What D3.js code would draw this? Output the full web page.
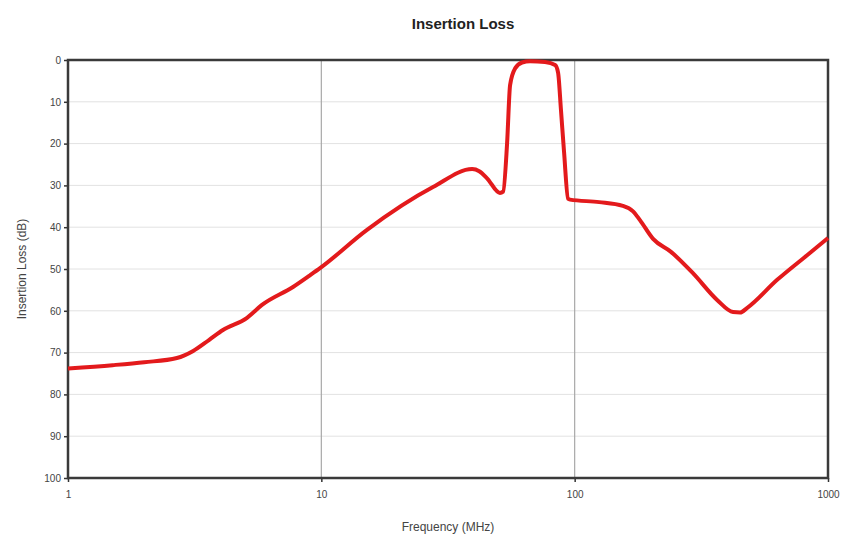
<!DOCTYPE html>
<html>
<head>
<meta charset="utf-8">
<script src="https://cdn.jsdelivr.net/npm/d3@7"></script>
<style>
  body { margin: 0; background: #fff; }
  text { font-family: "Liberation Sans", Arial, sans-serif; fill: #444; }
</style>
</head>
<body>
<div id="chart"></div>
<script>
// chart size and plot margins
const width = 844;
const height = 536;
const margin = {left: 68, right: 16, top: 60, bottom: 58};

// curve: frequency (MHz) and insertion loss (dB)
const freq = [1, 1.5, 2, 2.69, 3.12, 3.6, 4.09, 5.09, 5.83, 7.73, 9.02, 9.88, 15.1, 27.6,
  39.4, 42, 45.1, 50.7, 52.2, 54.1, 55.6, 58.2, 62, 66.7, 76.4, 83.7, 86, 88.3, 90.8, 94.2,
  95.9, 125, 155, 170, 181, 204, 240, 293, 365, 422, 450, 480, 630, 827, 1000];
const loss = [73.8, 73.0, 72.3, 71.3, 69.6, 67.0, 64.6, 61.7, 58.6, 54.3, 51.5, 49.8, 40.7, 30.4,
  26.1, 26.6, 28.3, 31.8, 31.5, 20, 6, 2, 0.6, 0.3, 0.5, 1.2, 3, 12, 22, 33.2,
  33.4, 34.0, 34.9, 36.2, 38.3, 42.8, 45.9, 51, 57.4, 60.3, 60.4, 59.3, 52.6, 46.7, 42.6];

const xTicks = [1, 10, 100, 1000];
const yTicks = d3.range(0, 101, 10);

const data = freq.map((f, i) => ({f: f, v: loss[i]}));

const svg = d3.select("#chart")
  .append("svg")
  .attr("width", width)
  .attr("height", height);

// scales
const x = d3.scaleLog()
  .domain([1, 1000])
  .range([margin.left, width - margin.right]);

const y = d3.scaleLinear()
  .domain([0, 100])
  .range([margin.top, height - margin.bottom]);

// horizontal grid
svg.append("g")
  .selectAll("line")
  .data(yTicks.slice(1, -1))
  .join("line")
    .attr("x1", margin.left)
    .attr("x2", width - margin.right)
    .attr("y1", d => y(d))
    .attr("y2", d => y(d))
    .attr("stroke", "#e2e2e2")
    .attr("stroke-width", 1);

// vertical grid at the decades
svg.append("g")
  .selectAll("line")
  .data(xTicks.slice(1, -1))
  .join("line")
    .attr("x1", d => x(d))
    .attr("x2", d => x(d))
    .attr("y1", margin.top)
    .attr("y2", height - margin.bottom)
    .attr("stroke", "#a8a8a8")
    .attr("stroke-width", 1.2);

// axes
const yAxis = svg.append("g")
  .attr("transform", `translate(${margin.left},0)`)
  .call(d3.axisLeft(y).tickValues(yTicks).tickSize(4).tickPadding(3));

const xAxis = svg.append("g")
  .attr("transform", `translate(0,${height - margin.bottom})`)
  .call(d3.axisBottom(x).tickValues(xTicks).tickFormat(d3.format("d")).tickSize(4).tickPadding(9));

[yAxis, xAxis].forEach(g => {
  g.select(".domain").remove();
  g.selectAll(".tick line").attr("stroke", "#333").attr("stroke-width", 1.5);
  g.selectAll(".tick text").attr("font-size", "10px").attr("fill", "#444");
});

// plot frame
svg.append("rect")
  .attr("x", margin.left)
  .attr("y", margin.top)
  .attr("width", width - margin.left - margin.right)
  .attr("height", height - margin.top - margin.bottom)
  .attr("fill", "none")
  .attr("stroke", "#3a3a3a")
  .attr("stroke-width", 2.5);

// insertion loss curve
const line = d3.line()
  .x(d => x(d.f))
  .y(d => y(d.v))
  .curve(d3.curveMonotoneX);

svg.append("path")
  .datum(data)
  .attr("d", line)
  .attr("fill", "none")
  .attr("stroke", "#e31a1c")
  .attr("stroke-width", 4)
  .attr("stroke-linejoin", "round");

// titles
svg.append("text")
  .attr("x", 463)
  .attr("y", 29)
  .attr("text-anchor", "middle")
  .attr("font-size", "15px")
  .attr("font-weight", "bold")
  .style("fill", "#222")
  .text("Insertion Loss");

svg.append("text")
  .attr("x", (margin.left + width - margin.right) / 2)
  .attr("y", 531)
  .attr("text-anchor", "middle")
  .attr("font-size", "12px")
  .style("fill", "#444")
  .text("Frequency (MHz)");

svg.append("text")
  .attr("transform", `translate(26,${(margin.top + height - margin.bottom) / 2}) rotate(-90)`)
  .attr("text-anchor", "middle")
  .attr("font-size", "12px")
  .style("fill", "#444")
  .text("Insertion Loss (dB)");
</script>
</body>
</html>
